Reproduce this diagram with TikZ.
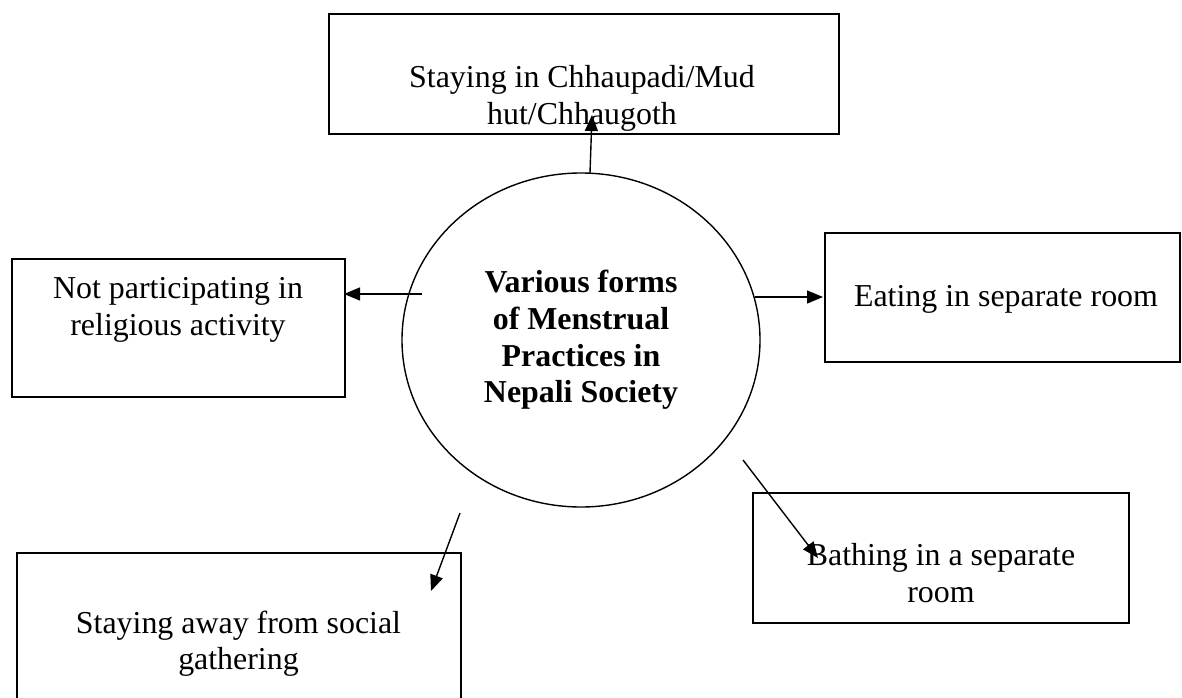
\documentclass[tikz,border=0pt]{standalone}
\usepackage{fontspec}
\setmainfont{Liberation Serif}
\usetikzlibrary{shapes.geometric,arrows.meta}
\begin{document}
\begin{tikzpicture}[x=1bp,y=-1bp,line width=1.4bp,
                    box/.style={draw, line width=1.6bp, inner sep=0pt},
                    lbl/.style={anchor=north, align=center, inner sep=0pt, font=\fontsize{31.9bp}{36.8bp}\selectfont},
                    >={Triangle[length=16bp,width=13bp]}]
                      \useasboundingbox (0,0) rectangle (1182,698);

                      \node[box, minimum width=510bp, minimum height=120bp] (hut) at (584,74) {};
                      \node[lbl] (hutT) at (582,65) {Staying in Chhaupadi/Mud\\hut/Chhaugoth};
                      \node[draw, ellipse, inner sep=0pt, minimum width=358bp, minimum height=334bp, align=center, font=\bfseries\fontsize{31.9bp}{36.8bp}\selectfont] (forms) at (581,340) {Various forms\\of Menstrual\\Practices in\\Nepali Society};
                      \node[box, minimum width=333bp, minimum height=138bp] (relig) at (178.5,328) {};
                      \node[lbl] (religT) at (178,277) {Not participating in\\religious activity};
                      \node[box, minimum width=355bp, minimum height=129bp] (eat) at (1002.5,297.5) {};
                      \node[lbl] (eatT) at (1006,285) {Eating in separate room};
                      \node[box, minimum width=376bp, minimum height=130bp] (bath) at (941,558) {};
                      \node[lbl] (bathT) at (941,543) {Bathing in a separate\\room};
                      \node[box, minimum width=444bp, minimum height=157bp] (social) at (239,631.5) {};
                      \node[lbl] (socialT) at (238.5,610) {Staying away from social\\gathering};

                      \coordinate (hutFoot) at (590,173);
                      \coordinate (hutTip) at (592,115);
                      \coordinate (religFoot) at (422,294);
                      \coordinate (religTip) at (344,294);
                      \coordinate (eatFoot) at (755,297);
                      \coordinate (eatTip) at (823,297);
                      \coordinate (bathFoot) at (743,460);
                      \coordinate (bathTip) at (818,558);
                      \coordinate (socialFoot) at (460,513);
                      \coordinate (socialTip) at (431,591);

                      \draw[->] (hutFoot) -- (hutTip);
                      \draw[->] (religFoot) -- (religTip);
                      \draw[->] (eatFoot) -- (eatTip);
                      \draw[->] (bathFoot) -- (bathTip);
                      \draw[->] (socialFoot) -- (socialTip);
                  \end{tikzpicture}
\end{document}
